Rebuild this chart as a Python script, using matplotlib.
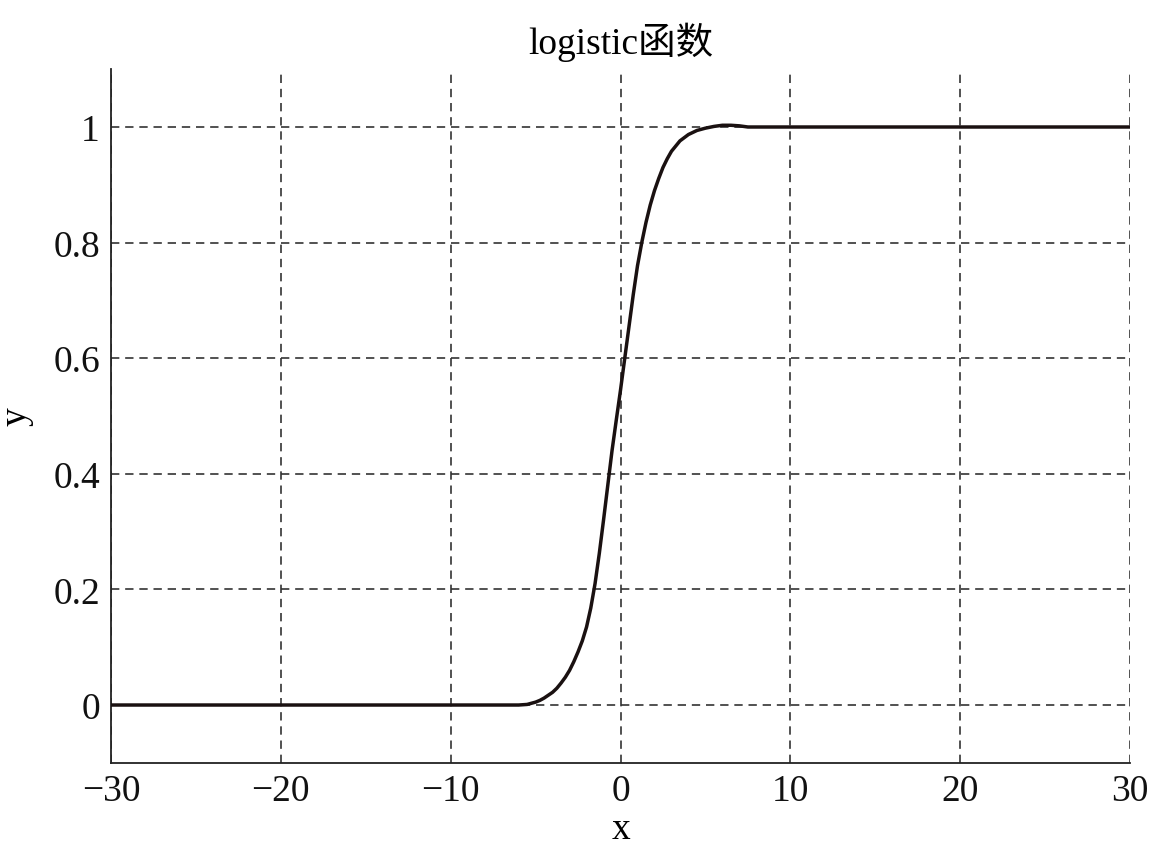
import matplotlib
matplotlib.use('Agg')
import matplotlib.pyplot as plt

# values
x_vals = [-30, -6.0, -5.5, -5.0, -4.75, -4.5, -4.25, -4.0, -3.75, -3.5, -3.25,
          -3.0, -2.75, -2.5, -2.25, -2.0, -1.75, -1.5, -1.25, -1.0, -0.75,
          -0.5, -0.25, 0.0, 0.25, 0.5, 0.75, 1.0, 1.25, 1.5, 1.75, 2.0, 2.25,
          2.5, 2.75, 3.0, 3.5, 4.0, 4.5, 5.0, 5.5, 6.0, 6.5, 7.0, 7.5, 8.0, 30]
y_vals = [0, 0, 0.001, 0.005, 0.008, 0.012, 0.017, 0.022, 0.029, 0.038, 0.048,
          0.06, 0.075, 0.092, 0.111, 0.135, 0.168, 0.21, 0.262, 0.32, 0.38,
          0.44, 0.493, 0.545, 0.6, 0.655, 0.71, 0.76, 0.8, 0.835, 0.865, 0.89,
          0.911, 0.93, 0.945, 0.958, 0.976, 0.987, 0.994, 0.998, 1.001, 1.003,
          1.003, 1.002, 1.0, 1.0, 1.0]

x_ticks = [-30, -20, -10, 0, 10, 20, 30]
y_ticks = [0, 0.2, 0.4, 0.6, 0.8, 1]
y_tick_labels = ['0', '0.2', '0.4', '0.6', '0.8', '1']

serif = ['Liberation Serif', 'Noto Sans CJK SC']
plt.rcParams['font.family'] = serif

fig = plt.figure(figsize=(11.49, 8.54), dpi=100)
ax = fig.add_axes([0.0966, 0.1056, 0.8869, 0.8122])

ax.plot(x_vals, y_vals, color='#1a1111', lw=2.5, zorder=3,
        solid_joinstyle='round')

ax.set_xlim(-30, 30)
ax.set_ylim(-0.1, 1.1)
ax.set_xticks(x_ticks)
ax.set_yticks(y_ticks)
ax.set_yticklabels(y_tick_labels)
ax.tick_params(length=0, labelsize=27, pad=8, colors='#111111')

ax.grid(True, color='#333333', linestyle=(0, (5, 3.5)), lw=1.2)

for s in ['top', 'right']:
    ax.spines[s].set_visible(False)
for s in ['left', 'bottom']:
    ax.spines[s].set_linewidth(1.3)
    ax.spines[s].set_color('#222222')

ax.set_title('logistic函数', fontsize=27, pad=12, family=serif)
ax.set_xlabel('x', fontsize=27, labelpad=2)
ax.set_ylabel('y', fontsize=27, labelpad=14)

fig.savefig('out.png', dpi=100, facecolor='white')
